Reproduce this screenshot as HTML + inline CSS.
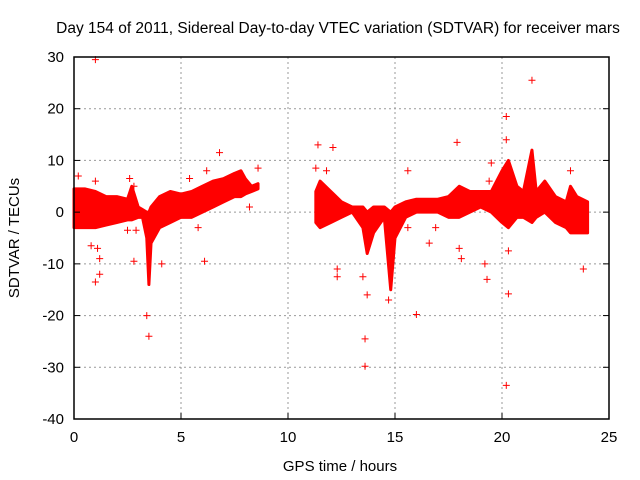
<!DOCTYPE html>
<html><head><meta charset="utf-8"><style>
body{margin:0;background:#fff;}
svg{display:block;font-family:"Liberation Sans",sans-serif;}
</style></head><body>
<svg id="chart" width="640" height="480" viewBox="0 0 640 480">
<text x="338" y="33" font-size="15.5" text-anchor="middle" fill="#000">Day 154 of 2011, Sidereal Day-to-day VTEC variation (SDTVAR) for receiver mars</text>
<text x="340" y="471" font-size="15" text-anchor="middle">GPS time / hours</text>
<text transform="translate(19,238) rotate(-90)" font-size="15" text-anchor="middle">SDTVAR / TECUs</text>
<g id="grid"></g><g id="data"></g><g id="axes"></g>
</svg>
<script>
const xTicks=[0,5,10,15,20,25];
const yTicks=[30,20,10,0,-10,-20,-30,-40];
const bandTimes1=[0,0.5,1,1.5,2,2.5,2.7,3,3.2,3.4,3.5,3.6,4,4.5,5,5.5,6,6.5,7,7.5,7.8,8,8.3,8.6];
const bandUpper1=[4.5,4.5,4,3,3,2.5,5,1,0.5,0,0,1,3,4,3.5,4,5,6,6.5,7.5,8,6.5,5,5.5];
const bandLower1=[-3,-3,-3,-2.5,-2,-1.5,-1.5,-1,-1,-5,-14,-6,-3,-2,-1,-1,0,1,2,3,3,3.5,4,4.5];
const bandTimes2=[11.3,11.5,12,12.5,13,13.5,13.7,14,14.5,14.8,15,15.5,16,17,17.5,18,18.5,19,19.5,20,20.3,20.7,21,21.4,21.6,22,22.5,23,23.2,23.5,24];
const bandUpper2=[4,6,4,2,1,1,0,1,1,0,1,2,2.5,2.5,3,5,4,4,4,8,10,5,4,12,4,6,3,2,5,3,2];
const bandLower2=[-2,-3,-2,-1,0,-3,-8,-4,-1,-15,-5,-1,0,0,-1,-1,0,1,0,-2,-3,-1,-1,-2,-1,0,-2,-3,-4,-4,-4];
const outlierTimes=[1.0,0.2,1,1,0.8,1.1,1.2,1.2,2.6,2.8,2.5,2.9,2.8,3.5,3.4,4.1,5.8,6.1,6.2,6.8,5.4,8.6,8.2,11.4,11.3,11.8,12.1,12.3,12.3,13.6,13.6,13.7,13.5,14.7,15.6,16,16.6,17.9,18,18.1,19.2,19.3,19.5,19.4,20.2,20.2,20.3,20.3,20.2,21.4,23.2,23.8,15.6,16.9];
const outlierValues=[29.5,7,6,-13.5,-6.5,-7,-9,-12,6.5,5,-3.5,-3.5,-9.5,-24,-20,-10,-3,-9.5,8,11.5,6.5,8.5,1,13,8.5,8,12.5,-11,-12.5,-24.5,-29.8,-16,-12.5,-17,8,-19.8,-6,13.5,-7,-9,-10,-13,9.5,6,18.5,14,-7.5,-15.8,-33.5,25.5,8,-11,-3,-3];

const X0=74,X1=609,Y0=419,Y1=57;
const xs=v=>X0+(v-0)/25*(X1-X0);
const ys=v=>Y0-(v+40)/70*(Y0-Y1);
const NS="http://www.w3.org/2000/svg";
function mk(t,a,p){const e=document.createElementNS(NS,t);for(const k in a)e.setAttribute(k,a[k]);p.appendChild(e);return e;}
const grid=document.getElementById('grid'),data=document.getElementById('data'),axes=document.getElementById('axes');
xTicks.forEach(t=>{
 if(t>0&&t<25){const l=mk('line',{x1:xs(t),x2:xs(t),y1:Y1,y2:Y0,stroke:'#999','stroke-dasharray':'2,3'},grid);
 
 }
 const k=mk('line',{x1:xs(t),x2:xs(t),y1:Y0,y2:Y0-6,stroke:'#000'},axes);
 
 
 const tx=mk('text',{x:xs(t),y:Y0+23,'font-size':15,'text-anchor':'middle'},axes);tx.textContent=t;
 
 
});
yTicks.forEach(t=>{
 if(t<30&&t>-40){const l=mk('line',{x1:X0,x2:X1,y1:ys(t),y2:ys(t),stroke:'#999','stroke-dasharray':'2,3'},grid);
 
 }
 const k=mk('line',{x1:X0,x2:X0+6,y1:ys(t),y2:ys(t),stroke:'#000'},axes);
 
 
 const k2=mk('line',{x1:X1,x2:X1-6,y1:ys(t),y2:ys(t),stroke:'#000'},axes);
 
 
 const tx=mk('text',{x:X0-10,y:ys(t)+5,'font-size':15,'text-anchor':'end'},axes);tx.textContent=t;
 
 
});
const fr=mk('rect',{x:X0,y:Y1,width:X1-X0,height:Y0-Y1,fill:'none',stroke:'#000','stroke-width':1.5},axes);


function band(T,U,L,name){
 let pts=T.map((t,i)=>xs(t)+','+ys(U[i]));
 for(let i=T.length-1;i>=0;i--)pts.push(xs(T[i])+','+ys(L[i]));
 const p=mk('polygon',{points:pts.join(' '),fill:'#f00',stroke:'#f00','stroke-width':3,'stroke-linejoin':'round'},data);
 
 
}
band(bandTimes1,bandUpper1,bandLower1,'data-band-early');
band(bandTimes2,bandUpper2,bandLower2,'data-band-late');
outlierTimes.forEach((t,i)=>{
 const x=xs(t),y=ys(outlierValues[i]);
 const m=mk('path',{d:`M${x-3.5},${y}H${x+3.5}M${x},${y-3.5}V${y+3.5}`,stroke:'#f00','stroke-width':1},data);
 
 
});
</script>
</body></html>
